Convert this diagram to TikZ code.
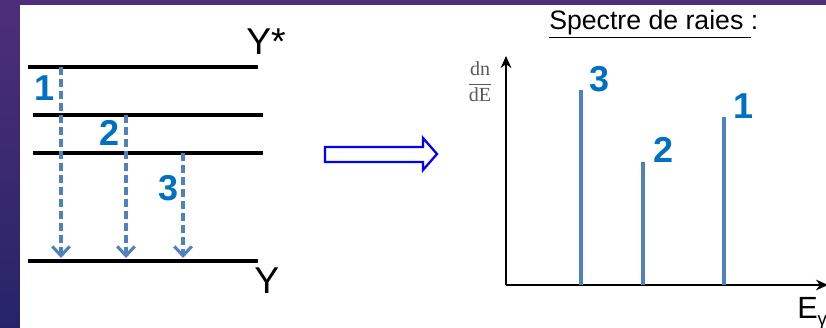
\documentclass[tikz,border=0pt]{standalone}
\usepackage{fontspec}
\setmainfont{Liberation Sans}
\newfontfamily\serifdn{Liberation Serif}
\usetikzlibrary{arrows.meta}

\definecolor{numblue}{RGB}{0,112,192}
\definecolor{lineblue}{RGB}{79,129,189}
\definecolor{bgtop}{RGB}{78,46,122}
\definecolor{bgbot}{RGB}{38,36,104}
\definecolor{dngray}{RGB}{90,90,90}

\tikzset{
  level/.style={line width=2.7pt},
  trans/.style={draw=lineblue,line width=2.3pt,dash pattern=on 6pt off 3pt,-{Straight Barb[length=7pt,width=13pt,line width=2.3pt]}},
  raie/.style={draw=lineblue,line width=2.3pt},
  axe/.style={line width=2.2pt,-{Stealth[length=9pt,width=8pt]}},
  num/.style={text=numblue,font=\fontsize{27}{27}\selectfont\bfseries,inner sep=0pt,anchor=base west},
  lbl/.style={font=\fontsize{28}{28}\selectfont,inner sep=0pt,anchor=base west}
}

\begin{document}
\begin{tikzpicture}[x=0.75pt,y=0.75pt,yscale=-1]
\useasboundingbox (0,0) rectangle (826,328);

%Background
\shade[top color=bgtop,bottom color=bgbot] (0,0) rectangle (826,328);
\fill[white] (20,5) rectangle (826,328);

%Energy levels
\coordinate (l1w) at (28,67);   \coordinate (l1e) at (258,67);
\coordinate (l2w) at (33,115);  \coordinate (l2e) at (263,115);
\coordinate (l3w) at (33,153);  \coordinate (l3e) at (263,153);
\coordinate (l0w) at (28,261);  \coordinate (l0e) at (258,261);
\draw[level] (l1w) -- (l1e);
\draw[level] (l2w) -- (l2e);
\draw[level] (l3w) -- (l3e);
\draw[level] (l0w) -- (l0e);

\node[lbl] (ystar) at (246,55) {Y*};
\node[lbl] (yfond) at (254,293) {Y};

%Transitions
\coordinate (t1a) at (61,67);   \coordinate (t1b) at (61,258);
\coordinate (t2a) at (126,115); \coordinate (t2b) at (126,258);
\coordinate (t3a) at (183,153); \coordinate (t3b) at (183,258);
\draw[trans] (t1a) -- (t1b);
\draw[trans] (t2a) -- (t2b);
\draw[trans] (t3a) -- (t3b);
\node[num] (n1) at (34,101) {1};
\node[num] (n2) at (99,146) {2};
\node[num] (n3) at (158,200) {3};

%Hollow arrow
\draw[blue,line width=1.7pt,line join=miter] (325,147) -- (423,147) -- (423,138) -- (437,154)
  -- (423,170) -- (423,162) -- (325,162) -- cycle;

%Spectrum
\node[font=\fontsize{20}{20}\selectfont,inner sep=0pt,anchor=base west] (titre) at (549,30)
  {\underline{Spectre de raies }:};
\coordinate (orig) at (506,285);
\coordinate (ytop) at (506,56);
\coordinate (xend) at (828,285);
\draw[axe] (orig) -- (ytop);
\draw[axe] (orig) -- (xend);
\node[inner sep=0pt,font=\serifdn\fontsize{15}{15}\selectfont,text=dngray] (dndE) at (480,82)
  {$\displaystyle\frac{\mbox{dn}}{\mbox{dE}}$};
\node[font=\fontsize{23}{23}\selectfont,inner sep=0pt,anchor=base west] (egam) at (797,318)
  {E\raisebox{-0.25em}{\fontsize{14}{14}\selectfont γ}};

\coordinate (r3a) at (581,285); \coordinate (r3b) at (581,90);
\coordinate (r2a) at (643,285); \coordinate (r2b) at (643,162);
\coordinate (r1a) at (724,285); \coordinate (r1b) at (724,117);
\draw[raie] (r3a) -- (r3b);
\draw[raie] (r2a) -- (r2b);
\draw[raie] (r1a) -- (r1b);
\node[num] (s3) at (589,92) {3};
\node[num] (s2) at (653,162) {2};
\node[num] (s1) at (733,118) {1};

\end{tikzpicture}
\end{document}
